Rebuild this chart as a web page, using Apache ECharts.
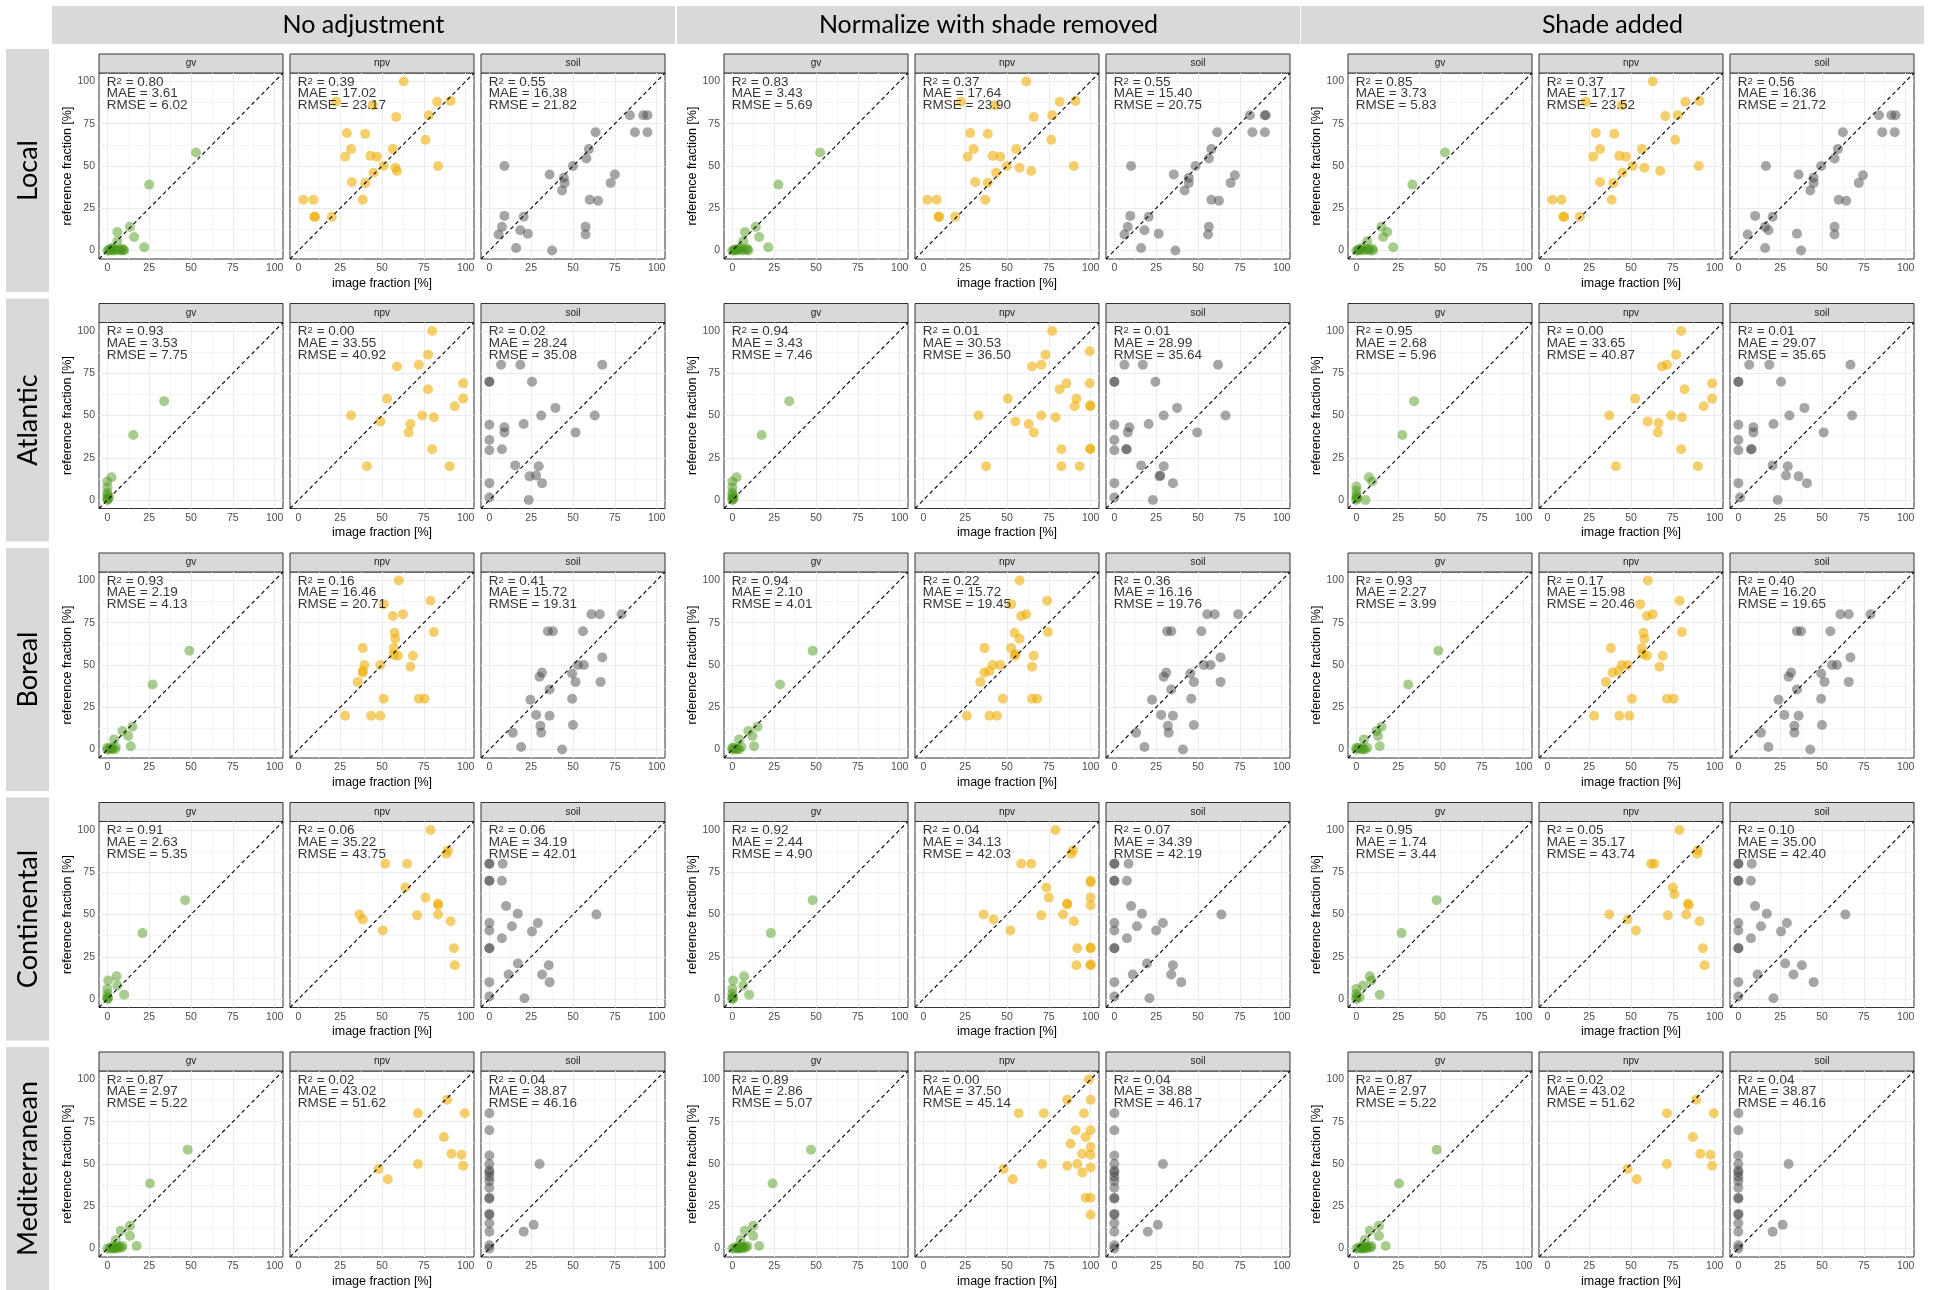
<!DOCTYPE html>
<html>
<head>
<meta charset="utf-8">
<script src="https://cdn.jsdelivr.net/npm/echarts@6/dist/echarts.min.js"></script>
<style>
  html, body { margin: 0; padding: 0; background: #ffffff; }
  #chart { width: 1935px; height: 1290px; }
</style>
</head>
<body>
<div id="chart"></div>
<script>
// ---- facet labels ----
const adjustments = ['No adjustment', 'Normalize with shade removed', 'Shade added'];
const regions = ['Local', 'Atlantic', 'Boreal', 'Continental', 'Mediterranean'];
const components = ['gv', 'npv', 'soil'];
const tickValues = [0, 25, 50, 75, 100];
const minorValues = [12.5, 37.5, 62.5, 87.5];
const identityLine = [[-5, -5], [105, 105]];

// ---- [image fraction, reference fraction] pairs ----
const localNoneGv = [[53,58],[25,39],[13.5,14],[6,11],[16,8],[22,2],[6,5.5],[0,0],[1,0],[2,1],[3,0],[4,0.5],[5,0],[7,0.5],[8,0],[9,1],[10,0],[9.5,0.3],[3,1.5],[1.5,0.5]];
const localNoneNpv = [[63,100],[22.5,88],[44.5,86],[83,88],[91,88.5],[58.5,79],[78,80],[29,69.5],[40,69],[76,65.5],[31.5,60],[56.5,60],[28,55.5],[43,56],[47,55.5],[51,50],[58,49],[59,47],[83.5,50],[45,46],[32,40.5],[40,40],[38.5,30],[3,30],[9,30],[9.5,20],[10,20],[20,20]];
const localNoneSoil = [[84,80],[92,80],[94.5,80],[87,70],[94.5,70],[63.5,70],[59.5,60],[58,54.5],[50,50],[9,50],[36,45],[44.5,43],[45,40],[43.5,35.5],[75,45],[72.5,40],[60,30],[65,29.5],[9,20.5],[20.5,20],[7.5,14],[18.5,12],[5.5,9.5],[23,10],[57.5,14],[57.5,9.5],[16,1.5],[37.5,0]];

const localNormGv = [[52.5,58],[27.5,39],[14,14],[7.5,11],[16,8],[21.5,2],[6.5,5.5],[0,0],[1,0],[2.5,0],[4.5,0.5],[6,0],[8,0.5],[9,1],[9.5,0],[3,1],[1.5,0.5],[5,1.5]];
const localNormNpv = [[61.5,100],[22.5,88],[43,86],[81.5,88],[91,88.5],[66,79],[77,80],[28,69.5],[38.5,69],[76.5,65.5],[30,60],[55.5,60],[26.5,55.5],[41.5,56],[46,55.5],[50,50],[57.5,49],[64.5,47],[90,50],[43.5,46],[31,40.5],[38.5,40],[37,30],[2.5,30],[8,30],[9,20],[9.5,20],[19,20]];
const localNormSoil = [[81,80],[90,80],[90.5,80],[82.5,70],[90,70],[61.5,70],[58,60],[56.5,54.5],[48.5,50],[10,50],[35.5,45],[44.5,43],[44.5,40],[42,35.5],[72,44.5],[69.5,40],[58,30],[62.5,29.5],[9.5,20.5],[20.5,20],[8,14],[18,12],[6,9.5],[26.5,10],[56.5,14],[56,9.5],[16,1.5],[36.5,0]];

const localShadeGv = [[53,58],[33.5,39],[15,14],[18.5,11],[16,8],[22,2],[6.5,5.5],[0,0],[1,0],[2.5,0.5],[4,0],[6,0.5],[8,0],[9.5,1],[10,0],[3,1.5],[7,1],[1.5,0.5]];
const localShadeNpv = [[63,100],[23,88],[44.5,86],[82.5,88],[91,88.5],[70.5,79.5],[78,80],[29,69.5],[40,69],[76.5,65.5],[31.5,60],[56.5,60],[27.5,55.5],[43,56],[47,55.5],[51,50],[58,49],[67.5,47],[90.5,50],[45,46],[31.5,40.5],[39.5,40],[38.5,30],[3,30],[8.5,30],[9.5,20],[10,20],[19.5,20]];
const localShadeSoil = [[84,80],[91.5,80],[94,80],[86,70],[93.5,70],[62.5,70],[59.5,60],[57.5,54.5],[49.5,50],[16.5,50],[36,45],[45,43],[45,40],[43,35.5],[74.5,44.5],[72,40],[60,30],[64.5,29.5],[10,20.5],[20.5,20],[16,14],[18,12],[5.5,9.5],[35,10],[57.5,14],[57.5,9.5],[16,1.5],[37.5,0]];

const atlanticNoneGv = [[34,58.5],[15.5,38.5],[2.5,13.5],[0,11],[0,7.5],[0,4.5],[0,3],[0,1],[0,0],[0.5,0.5],[1,2]];
const atlanticNoneNpv = [[80,100],[77.5,86],[59,79],[72,80],[98.5,69],[98.5,60],[77.5,65.5],[53,60],[93.5,55.5],[31.5,50],[74,50],[81,49],[49,46.5],[67,45],[66,40],[80,30],[41,20],[90.5,20]];
const atlanticNoneSoil = [[0,70],[0,70],[7,80],[18.5,80],[67.5,80],[25.5,70],[39.5,54.5],[63,50],[31,50],[0,44.5],[0,35.5],[9,43],[9,40],[20.5,45],[51.5,40],[0,29.5],[7.5,30],[0,10],[0,1.5],[15.5,20.5],[29.5,20],[24,14],[28,14.5],[31.5,10],[23.5,0]];

const atlanticNormGv = [[34,58.5],[17.5,38.5],[2.5,13.5],[0,11],[0,7.5],[0,4.5],[0,3],[0,1],[0,0],[0.5,0.5],[1,2]];
const atlanticNormNpv = [[77,100],[99.5,88],[73,86],[65,79],[70.5,80],[99.5,69],[85.5,69],[81.5,65.5],[91.5,60],[50.5,60],[90.5,55.5],[99.8,55.5],[99.8,56],[33,50],[70.5,50],[79,49],[55,46.5],[63,45],[66,40],[82.5,30],[99.8,30],[99.8,30.5],[37.5,20],[82.5,20],[93.5,20]];
const atlanticNormSoil = [[0,70],[0,70],[6,80],[17,80],[62,80],[24.5,70],[37.5,54.5],[66.5,50],[29.5,50],[0,44.5],[0,35.5],[9,43],[8,40],[20.5,45],[49.5,40],[0,29.5],[7,30],[7.5,30],[0,10],[0,1.5],[16,20.5],[29.5,20],[27,14],[27.5,14.5],[35,10],[23,0]];

const atlanticShadeGv = [[34.5,58.5],[27.5,38.5],[7.5,13.5],[9.5,11],[0,8],[0,5.5],[0,3],[0,1],[0,0],[5.5,0],[0.5,1.5]];
const atlanticShadeNpv = [[80,100],[77,86],[68.5,79],[71.5,80],[98.5,69],[98.5,60],[82,65.5],[52.5,60],[93.5,55.5],[37,50],[74,50],[80.5,49],[60,46.5],[66.5,45.5],[66,40],[80,30],[41,20],[90,20]];
const atlanticShadeSoil = [[0,70],[0,70],[6.5,80],[18.5,80],[67,80],[25.5,70],[39.5,54.5],[68,50],[30.5,50],[0,44.5],[0,35.5],[9,43],[9,40],[21,45],[51,40],[0,29.5],[7.5,30],[8,30],[0,10],[1,1.5],[20.5,20.5],[29.5,20],[28.5,14.5],[36,14],[41,10],[23.5,0]];

const borealNoneGv = [[49,58.5],[27,38.5],[15,13.5],[9,11],[12.5,8],[14,2],[4,6],[5,1.5],[0,1],[0,0],[1.5,0],[3,0.5],[4.5,0],[2,1]];
const borealNoneNpv = [[60,100],[79,88],[51,86],[56.5,79],[62.5,80],[57.5,69],[81,69.5],[58,65.5],[38.5,60],[57,60],[68.5,55.5],[59.5,55.5],[57,56],[39.5,50],[49,50],[67,49],[38.5,46.5],[38.5,45.5],[35.5,40],[51,30],[72,30],[75.5,30],[28,20],[43.5,20],[49,20]];
const borealNoneSoil = [[61,80],[66,80],[79,80],[35,70],[38,70],[56,70],[53,50],[56.5,50],[67.5,54.5],[31.5,45.5],[30,43],[49.5,45],[51.5,40],[66.5,40],[36,35.5],[24.5,29.5],[49.5,30],[28,20.5],[36,20],[30.5,14],[50,14.5],[31,10],[14,10],[19,1.5],[43.5,0]];

const borealNormGv = [[48,58.5],[28.5,38.5],[15,13.5],[9.5,11],[12,8],[13,2],[4,6],[5.5,1.5],[0,1],[0,0],[2,0],[3,0.5],[4,0],[1,1]];
const borealNormNpv = [[57.5,100],[74,88],[52.5,86],[58.5,79],[61.5,80],[54.5,69],[74.5,69.5],[57.5,65.5],[36.5,60],[52.5,60],[66,55.5],[54.5,55.5],[55,56.5],[41.5,50],[46,50],[65,49],[36.5,45.5],[39.5,46.5],[34,40],[47.5,30],[65,30],[68,30],[26,20],[39.5,20],[44,20]];
const borealNormSoil = [[55.5,80],[60,80],[74,80],[31.5,70],[34,70],[52,70],[53.5,50],[57.5,50],[63.5,54.5],[31,45.5],[29.5,43],[45.5,45],[47.5,40],[63.5,40],[34,35.5],[22.5,29.5],[46,30],[28,20.5],[35,20],[32,14],[47.5,14.5],[32.5,10],[13,10],[18,1.5],[41,0]];

const borealShadeGv = [[49,58.5],[31,38.5],[15,13.5],[12,11],[13,8],[14,2],[4.5,6],[6.5,1],[0,1],[0,0],[3,0],[4,0.5],[5,0],[1.5,1]];
const borealShadeNpv = [[60,100],[79,88],[55.5,86],[59.5,79],[63,80],[57.5,69],[80.5,69.5],[58,65.5],[38,60],[56.5,60],[69,55.5],[59.5,55.5],[57,56.5],[44.5,50],[48,50],[67,49],[39,45.5],[42.5,46.5],[35,40],[50.5,30],[71.5,30],[75.5,30],[28,20],[43,20],[49,20]];
const borealShadeSoil = [[61,80],[66,80],[79,80],[35,70],[37.5,70],[55,70],[56,50],[59,50],[67,54.5],[31.5,45.5],[30,43],[49.5,45],[51.5,40],[66,40],[35,35.5],[24,29.5],[49.5,30],[27.5,20.5],[36,20],[33.5,14],[50,14.5],[33.5,10],[13.5,10],[18,1.5],[43,0]];

const continentalNoneGv = [[46.5,58.5],[21,39],[5.5,13.5],[0.5,11],[6,8],[10,2.5],[0,6],[0,3],[0,1],[0,0],[0.5,0.5]];
const continentalNoneNpv = [[79,100],[89.5,88],[88.5,86],[52,80],[65,80],[64,66],[76,60],[83.5,56.5],[83.5,55.5],[83.5,50],[71,49.5],[91,46],[36.5,50],[38.5,47],[50.5,40.5],[93,30],[93.5,20]];
const continentalNoneSoil = [[0,80],[0,80],[8,80],[0,70],[0,70],[7.5,70],[10,55],[17,50.5],[64,50],[0,45],[0,40.5],[29,45],[13.5,43],[25.5,40],[7.5,36],[0,30],[0,30],[17,21],[35.5,20],[11.5,14.5],[31.5,14.5],[36,10],[0,10],[0,1.5],[21,0.5]];

const continentalNormGv = [[48,58.5],[23,39],[7,13.5],[0.5,11],[6.5,8],[10,2.5],[0,6],[0,3],[0,1],[0,0],[0.5,0.5]];
const continentalNormNpv = [[79,100],[89.5,88],[88.5,86],[58.5,80],[64.5,80],[73.5,66],[75,60],[86,56.5],[86,56],[83.5,50],[70.5,49.5],[90,46],[36,50],[42,47],[52,40.5],[100,70],[100,69],[100,60],[100,55.5],[92,30],[100,30],[100,30.5],[91.5,20],[100,20],[100,20.5]];
const continentalNormSoil = [[0,80],[0,80],[8.5,80],[0,70],[0,70],[7.5,70],[10,55],[16.5,50.5],[64,50],[0,45],[0,40.5],[29,45],[13.5,43],[25,40.5],[7.5,36],[0,30],[0,30],[19.5,21],[35,20],[11,14.5],[34,14.5],[40,10],[0,10],[0,1.5],[21,0.5]];

const continentalShadeGv = [[48,58.5],[27,39],[8,13.5],[9,11],[4,8],[14,2.5],[0,6],[0,3],[0,1],[0,0],[2,1]];
const continentalShadeNpv = [[79,100],[90,88],[89.5,86],[62,80],[64,80],[75,66],[76,62],[84,56.5],[84.5,55.5],[83,50],[72,49.5],[91,46],[37,50],[48,47],[53,40.5],[93,30],[94,20]];
const continentalShadeSoil = [[0,80],[0,80],[8,80],[0,70],[0,70],[7.5,70],[10,55],[17,50.5],[64,50],[0,45],[0,40.5],[29,45],[13.5,43],[25.5,40],[7.5,36],[0,30],[0,30],[28,21],[38,20],[11.5,14.5],[33,14.5],[45,10],[0,10],[0,1.5],[21,0.5]];

const mediterraneanNoneGv = [[48,58.5],[25.5,38.5],[13.5,13.5],[8,10.5],[13.5,7.5],[17.5,1.5],[5,5],[0,0],[1.5,0],[3,0],[4.5,0.5],[6,0],[7,1],[8.5,0.5],[9,1.5],[5.5,1],[2.5,1],[4,0]];
const mediterraneanNoneNpv = [[89,88],[71.5,80],[99.5,80],[87,66],[91.5,56],[97.5,55.5],[98.5,49],[71.5,50],[48,47],[53.5,41]];
const mediterraneanNoneSoil = [[0,80],[0,70],[0,55],[0,50],[0,46],[0,45],[0,42.5],[0,40],[0,36],[0,30],[0,29.5],[0,20.5],[0,20],[0,15],[0,10],[0,2],[0,0],[30,50],[20.5,10],[26.5,14]];

const mediterraneanNormGv = [[47,58.5],[24,38.5],[12.5,13.5],[7.5,10.5],[12.5,7.5],[16,1.5],[5,5],[0,0],[1.5,0],[3,0],[4.5,0.5],[6,0],[7,1],[8,0.5],[9,1.5],[5.5,1],[2.5,1],[4,0]];
const mediterraneanNormNpv = [[99,100],[86,88],[100,88],[72,80],[57,80],[96,80],[100,70],[91,70],[97,66],[88,62],[100,60],[95,56],[100,55.5],[92,50],[100,48],[86,49],[71,50],[48,47],[53.5,41],[97,30],[100,30],[100,20],[95,45]];
const mediterraneanNormSoil = [[0,80],[0,70],[0,55],[0,50],[0,46],[0,45],[0,42.5],[0,40],[0,36],[0,30],[0,29.5],[0,20.5],[0,20],[0,15],[0,10],[0,2],[0,0],[29,50],[20,10],[26,14]];

const mediterraneanShadeGv = [[48,58.5],[25.5,38.5],[13.5,13.5],[8,10.5],[13.5,7.5],[17.5,1.5],[5,5],[0,0],[1.5,0],[3,0],[4.5,0.5],[6,0],[7,1],[8.5,0.5],[9,1.5],[5.5,1],[2.5,1],[4,0]];
const mediterraneanShadeNpv = [[89,88],[71.5,80],[99.5,80],[87,66],[91.5,56],[97.5,55.5],[98.5,49],[71.5,50],[48,47],[53.5,41]];
const mediterraneanShadeSoil = [[0,80],[0,70],[0,55],[0,50],[0,46],[0,45],[0,42.5],[0,40],[0,36],[0,30],[0,29.5],[0,20.5],[0,20],[0,15],[0,10],[0,2],[0,0],[30,50],[20.5,10],[26.5,14]];

// ---- fit statistics: [R2, MAE, RMSE] per component ----
const localStats = [
  [['0.80','3.61','6.02'], ['0.39','17.02','23.17'], ['0.55','16.38','21.82']],
  [['0.83','3.43','5.69'], ['0.37','17.64','23.90'], ['0.55','15.40','20.75']],
  [['0.85','3.73','5.83'], ['0.37','17.17','23.52'], ['0.56','16.36','21.72']]
];
const atlanticStats = [
  [['0.93','3.53','7.75'], ['0.00','33.55','40.92'], ['0.02','28.24','35.08']],
  [['0.94','3.43','7.46'], ['0.01','30.53','36.50'], ['0.01','28.99','35.64']],
  [['0.95','2.68','5.96'], ['0.00','33.65','40.87'], ['0.01','29.07','35.65']]
];
const borealStats = [
  [['0.93','2.19','4.13'], ['0.16','16.46','20.71'], ['0.41','15.72','19.31']],
  [['0.94','2.10','4.01'], ['0.22','15.72','19.45'], ['0.36','16.16','19.76']],
  [['0.93','2.27','3.99'], ['0.17','15.98','20.46'], ['0.40','16.20','19.65']]
];
const continentalStats = [
  [['0.91','2.63','5.35'], ['0.06','35.22','43.75'], ['0.06','34.19','42.01']],
  [['0.92','2.44','4.90'], ['0.04','34.13','42.03'], ['0.07','34.39','42.19']],
  [['0.95','1.74','3.44'], ['0.05','35.17','43.74'], ['0.10','35.00','42.40']]
];
const mediterraneanStats = [
  [['0.87','2.97','5.22'], ['0.02','43.02','51.62'], ['0.04','38.87','46.16']],
  [['0.89','2.86','5.07'], ['0.00','37.50','45.14'], ['0.04','38.88','46.17']],
  [['0.87','2.97','5.22'], ['0.02','43.02','51.62'], ['0.04','38.87','46.16']]
];

// region -> adjustment -> component
const panelData = [
  [[localNoneGv, localNoneNpv, localNoneSoil], [localNormGv, localNormNpv, localNormSoil], [localShadeGv, localShadeNpv, localShadeSoil]],
  [[atlanticNoneGv, atlanticNoneNpv, atlanticNoneSoil], [atlanticNormGv, atlanticNormNpv, atlanticNormSoil], [atlanticShadeGv, atlanticShadeNpv, atlanticShadeSoil]],
  [[borealNoneGv, borealNoneNpv, borealNoneSoil], [borealNormGv, borealNormNpv, borealNormSoil], [borealShadeGv, borealShadeNpv, borealShadeSoil]],
  [[continentalNoneGv, continentalNoneNpv, continentalNoneSoil], [continentalNormGv, continentalNormNpv, continentalNormSoil], [continentalShadeGv, continentalShadeNpv, continentalShadeSoil]],
  [[mediterraneanNoneGv, mediterraneanNoneNpv, mediterraneanNoneSoil], [mediterraneanNormGv, mediterraneanNormNpv, mediterraneanNormSoil], [mediterraneanShadeGv, mediterraneanShadeNpv, mediterraneanShadeSoil]]
];
const panelStats = [localStats, atlanticStats, borealStats, continentalStats, mediterraneanStats];

// ---- layout & style ----
const blockX = [52, 677, 1301];
const blockW = 623;
const panelOffset = [47, 238, 429];
const panelW = 184;
const rowTop = [49, 298.5, 548, 797.5, 1047];
const rowH = 243;
const stripH = 19;
const plotH = 186;
const pointColors = ['rgba(72,150,20,0.6)', 'rgba(236,172,0,0.72)', 'rgba(70,70,70,0.6)'];
const sans = '"Liberation Sans", Arial, sans-serif';
const titleFont = 'Lato, "Open Sans", sans-serif';

const grids = [], xAxes = [], yAxes = [], series = [], graphics = [];

// column headers
adjustments.forEach(function (name, c) {
  graphics.push({
    type: 'rect', shape: { x: blockX[c], y: 6, width: blockW, height: 38 },
    style: { fill: '#d9d9d9' }, silent: true
  });
  graphics.push({
    type: 'text', x: blockX[c] + blockW / 2, y: 25,
    style: { text: name, fontSize: 25, fontFamily: titleFont, fill: '#000', align: 'center', verticalAlign: 'middle', textAlign: 'center', textVerticalAlign: 'middle' },
    silent: true
  });
});

// row strips
regions.forEach(function (name, r) {
  graphics.push({
    type: 'rect', shape: { x: 6, y: rowTop[r], width: 43, height: rowH },
    style: { fill: '#d9d9d9' }, silent: true
  });
  graphics.push({
    type: 'text', x: 28, y: rowTop[r] + rowH / 2, rotation: Math.PI / 2,
    style: { text: name, fontSize: 27, fontFamily: titleFont, fill: '#000', align: 'center', verticalAlign: 'middle', textAlign: 'center', textVerticalAlign: 'middle' },
    silent: true
  });
});

function gridLineMarks() {
  const major = { color: '#ebebeb', width: 1, type: 'solid' };
  const minor = { color: '#f3f3f3', width: 0.8, type: 'solid' };
  const marks = [];
  minorValues.forEach(function (v) {
    marks.push({ xAxis: v, lineStyle: minor });
    marks.push({ yAxis: v, lineStyle: minor });
  });
  tickValues.forEach(function (v) {
    marks.push({ xAxis: v, lineStyle: major });
    marks.push({ yAxis: v, lineStyle: major });
  });
  return marks;
}

let g = 0;
regions.forEach(function (region, r) {
  adjustments.forEach(function (adj, c) {
    components.forEach(function (comp, k) {
      const left = blockX[c] + panelOffset[k];
      const top = rowTop[r] + 5 + stripH;

      // facet strip
      graphics.push({
        type: 'rect', shape: { x: left, y: rowTop[r] + 5, width: panelW, height: stripH },
        style: { fill: '#d9d9d9', stroke: '#333333', lineWidth: 1 }, silent: true
      });
      graphics.push({
        type: 'text', x: left + panelW / 2, y: rowTop[r] + 5 + stripH / 2,
        style: { text: comp, fontSize: 10, fontFamily: sans, fill: '#1a1a1a', align: 'center', verticalAlign: 'middle', textAlign: 'center', textVerticalAlign: 'middle' },
        silent: true
      });

      grids.push({
        left: left, top: top, width: panelW, height: plotH, z: 0,
        show: true, backgroundColor: '#ffffff', borderColor: '#333333', borderWidth: 1
      });

      xAxes.push({
        gridIndex: g, type: 'value', min: -5, max: 105,
        axisLine: { show: false },
        axisTick: { show: true, customValues: tickValues, length: 3, lineStyle: { color: '#333333', width: 1 } },
        axisLabel: { customValues: tickValues, color: '#4d4d4d', fontSize: 10.5, fontFamily: sans, margin: 4 },
        splitLine: { show: false },
        name: k === 1 ? 'image fraction [%]' : '',
        nameLocation: 'middle', nameGap: 18,
        nameTextStyle: { fontSize: 12.5, fontFamily: sans, color: '#000' }
      });
      yAxes.push({
        gridIndex: g, type: 'value', min: -5, max: 105,
        axisLine: { show: false },
        axisTick: { show: k === 0, customValues: tickValues, length: 3, lineStyle: { color: '#333333', width: 1 } },
        axisLabel: { show: k === 0, customValues: tickValues, color: '#4d4d4d', fontSize: 10.5, fontFamily: sans, margin: 4 },
        splitLine: { show: false },
        name: k === 0 ? 'reference fraction [%]' : '',
        nameLocation: 'middle', nameGap: 25,
        nameTextStyle: { fontSize: 12.5, fontFamily: sans, color: '#000' }
      });

      // panel grid lines
      series.push({
        type: 'scatter', xAxisIndex: g, yAxisIndex: g, data: [], silent: true, z: 1,
        markLine: {
          silent: true, symbol: ['none', 'none'], animation: false, z: 1,
          label: { show: false }, emphasis: { disabled: true },
          data: gridLineMarks()
        }
      });

      // observations
      series.push({
        type: 'scatter', xAxisIndex: g, yAxisIndex: g, z: 3, silent: true,
        data: panelData[r][c][k], symbolSize: 10,
        itemStyle: { color: pointColors[k] }
      });

      // 1:1 line
      series.push({
        type: 'line', xAxisIndex: g, yAxisIndex: g, z: 4, silent: true,
        data: identityLine, symbol: 'none',
        lineStyle: { color: '#000', width: 1.1, type: [4, 3] }
      });

      // fit statistics, R with a raised 2
      const s = panelStats[r][c][k];
      series.push({
        type: 'scatter', xAxisIndex: g, yAxisIndex: g, z: 5, silent: true,
        data: [[0, 100]], symbolSize: 1, itemStyle: { color: 'rgba(0,0,0,0)' },
        label: {
          show: true, position: [0, -5], align: 'left', verticalAlign: 'top',
          formatter: '{t|R}{sup|2}{t| = ' + s[0] + '}\n{t|MAE = ' + s[1] + '}\n{t|RMSE = ' + s[2] + '}',
          rich: {
            t: { fontSize: 13.5, lineHeight: 11.8, color: '#000', fontFamily: sans },
            sup: { fontSize: 9.5, lineHeight: 4, verticalAlign: 'top', color: '#000', fontFamily: sans }
          }
        }
      });
      g++;
    });
  });
});

const chart = echarts.init(document.getElementById('chart'), null, { renderer: 'canvas' });
chart.setOption({
  animation: false,
  backgroundColor: '#ffffff',
  grid: grids,
  xAxis: xAxes,
  yAxis: yAxes,
  series: series,
  graphic: graphics
});
</script>
</body>
</html>
